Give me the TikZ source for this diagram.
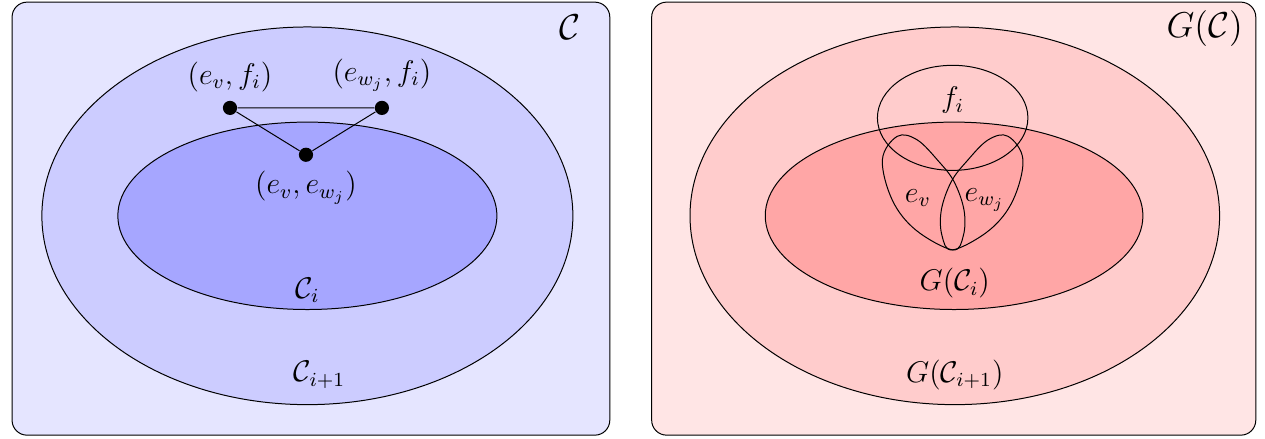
\documentclass[tikz,border=0pt]{standalone}
\usetikzlibrary{positioning}

\begin{document}
\begin{tikzpicture}[
    font=\large,
    panel/.style={draw, rounded corners=6pt},
    dot/.style={circle, fill=black, inner sep=0pt, minimum size=2mm},
    corner/.style={font=\Large}
]
  \useasboundingbox (0,0) rectangle (17.82,6.17);

  % left: the complex C with its layers
  \filldraw[panel, fill=blue!10] (0.17,0.04) rectangle (8.59,6.14);
  \filldraw[fill=blue!20] (4.33,3.13) ellipse (3.74 and 2.66);
  \filldraw[fill=blue!35] (4.33,3.13) ellipse (2.67 and 1.32);
  \node[corner] (lc) at (8.03,5.79) {$\mathcal{C}$};
  \node (lci) at (4.33,2.08) {$\mathcal{C}_i$};
  \node (lcn) at (4.5,0.89) {$\mathcal{C}_{i+1}$};

  % left: the three cells and their edges
  \node[dot] (evf) at (3.24,4.65) {};
  \node[dot] (ewf) at (5.38,4.65) {};
  \node[dot] (eve) at (4.31,3.99) {};
  \node[above=0pt of evf] (tevf) {$(e_v, f_i)$};
  \node[above=0pt of ewf] (tewf) {$(e_{w_j}, f_i)$};
  \node[below=0pt of eve] (teve) {$(e_v, e_{w_j})$};
  \draw (evf) -- (ewf) -- (eve) -- (evf);

  % right: the graph G(C) with its layers
  \filldraw[panel, fill=red!10] (9.18,0.04) rectangle (17.69,6.14);
  \filldraw[fill=red!20] (13.45,3.13) ellipse (3.73 and 2.66);
  \filldraw[fill=red!35] (13.44,3.13) ellipse (2.66 and 1.32);
  \node[corner] (rg) at (16.97,5.77) {$G(\mathcal{C})$};
  \node (rgi) at (13.45,2.18) {$G(\mathcal{C}_i)$};
  \node (rgn) at (13.45,0.89) {$G(\mathcal{C}_{i+1})$};

  % right: face f_i and the two edge loops
  \draw (13.42,4.51) ellipse (1.06 and 0.74);
  \node (fi) at (13.42,4.76) {$f_i$};
  \coordinate (tip) at (13.42,2.65);
  \draw[shift={(tip)}] plot[smooth cycle, tension=0.6] coordinates
    {(0,0) (-0.52,0.28) (-0.85,0.70) (-0.99,1.27) (-0.78,1.6)
     (-0.5,1.55) (-0.2,1.25) (0.02,0.96) (0.16,0.56) (0.15,0.2)};
  \draw[shift={(tip)}] plot[smooth cycle, tension=0.6] coordinates
    {(0,0) (0.52,0.28) (0.85,0.70) (0.99,1.27) (0.78,1.6)
     (0.5,1.55) (0.2,1.25) (-0.02,0.96) (-0.16,0.56) (-0.15,0.2)};
  \node (ev) at (12.93,3.38) {$e_v$};
  \node (ew) at (13.87,3.35) {$e_{w_j}$};
\end{tikzpicture}
\end{document}
